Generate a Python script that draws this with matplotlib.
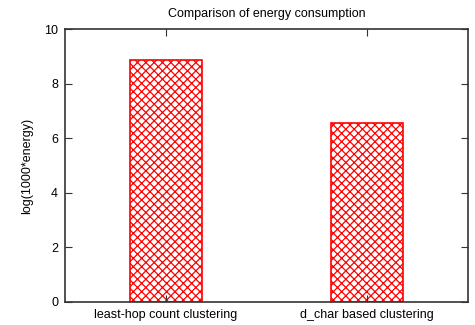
import numpy as np
import matplotlib
matplotlib.use('Agg')
import matplotlib.pyplot as plt

plt.rcParams['font.family'] = ['Liberation Sans', 'DejaVu Sans']
plt.rcParams['hatch.linewidth'] = 0.9

categories = ['least-hop count clustering', 'd_char based clustering']
energy = [8.88, 6.56]

fig = plt.figure(figsize=(4.75, 3.25), dpi=100)
ax = fig.add_axes([65/475, 1 - 302/325, 403/475, 273/325])

x = np.arange(len(categories))
ax.bar(x, energy, width=0.355, color='white', edgecolor='red',
       hatch='xxxx', linewidth=1.2)

ax.set_xlim(-0.5, 1.5)
ax.set_ylim(0, 10)
ax.set_xticks(x)
ax.set_xticklabels(categories)
ax.set_yticks([0, 2, 4, 6, 8, 10])
ax.tick_params(direction='in', length=5, labelsize=9, top=True, right=True,
               color='#333333')
ax.tick_params(axis='x', pad=5)
ax.tick_params(axis='y', pad=5)
for s in ax.spines.values():
    s.set_color('#333333')
    s.set_linewidth(1.2)

ax.set_ylabel('log(1000*energy)', fontsize=9, labelpad=8)
ax.set_title('Comparison of energy consumption', fontsize=9, pad=9)

fig.savefig('out.png', dpi=100)
